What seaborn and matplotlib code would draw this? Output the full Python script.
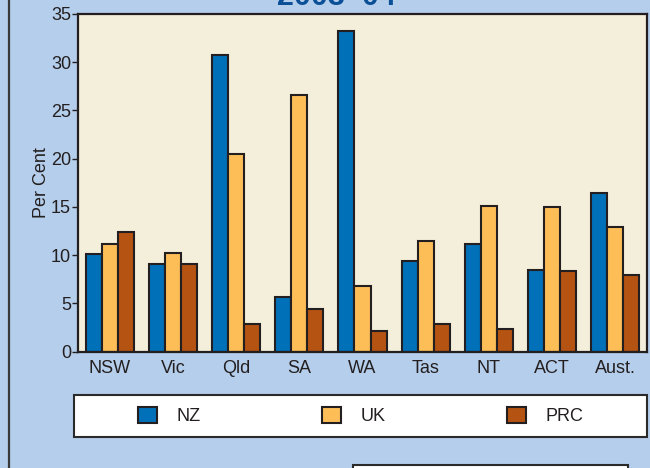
import pandas as pd
import matplotlib
matplotlib.use("Agg")
import matplotlib.pyplot as plt
import seaborn as sns
from matplotlib.patches import Rectangle
from matplotlib.lines import Line2D

# Données
states = ["NSW", "Vic", "Qld", "SA", "WA", "Tas", "NT", "ACT", "Aust."]
countries = ["NZ", "UK", "PRC"]
nz = [10.1, 9.1, 30.7, 5.7, 33.2, 9.4, 11.1, 8.5, 16.4]
uk = [11.1, 10.2, 20.5, 26.6, 6.8, 11.5, 15.1, 15.0, 12.9]
prc = [12.4, 9.1, 2.9, 4.45, 2.1, 2.9, 2.3, 8.3, 7.9]
colors = ["#0070B8", "#FDBE58", "#B55312"]

df = pd.DataFrame({
    "State": states * 3,
    "Country": ["NZ"] * 9 + ["UK"] * 9 + ["PRC"] * 9,
    "Pct": nz + uk + prc,
})

sns.set_style("white")
plt.rcParams["font.family"] = ["Liberation Sans", "DejaVu Sans"]

dark = "#231F20"
bg = "#B5CEEB"
fs = 13

fig = plt.figure(figsize=(6.5, 4.68), dpi=100, facecolor=bg)
W, H = 650, 468
ax = fig.add_axes([78 / W, 1 - 351.5 / H, (647 - 78) / W, (351.5 - 14) / H])
ax.set_facecolor("#F4EFDB")

sns.barplot(data=df, x="State", y="Pct", hue="Country", hue_order=countries,
            palette=colors, saturation=1, width=0.76, edgecolor=dark,
            linewidth=1.5, ax=ax, legend=False)

ax.set_ylim(0, 35)
ax.set_xlim(-0.5, 8.5)
ax.set_yticks(range(0, 36, 5))
ax.set_xlabel("")
ax.set_ylabel("Per Cent", fontsize=fs, color=dark, labelpad=1)
ax.tick_params(axis="y", length=4, width=1, pad=1, colors=dark, labelsize=fs, left=True)
ax.tick_params(axis="x", length=0, pad=6, colors=dark, labelsize=fs)
for s in ax.spines.values():
    s.set_color(dark)
    s.set_linewidth(1.6)

# titre (coupé en haut, comme sur l'original)
fig.text(336 / W, 1 - 5 / H, "2003\u201304", fontsize=22, fontweight="bold",
         color="#0B4F96", ha="center", va="baseline")

# bordure gauche
fig.add_artist(Line2D([9 / W, 9 / W], [0, 1], color="#3A3A3A", linewidth=1.6))

# boîte de légende
fig.add_artist(Rectangle((74 / W, 1 - 437 / H), (647 - 74) / W, 42 / H,
                         facecolor="white", edgecolor="#2A2A2A", linewidth=1.5))
handles = [Rectangle((0, 0), 1, 1, facecolor=c, edgecolor=dark, linewidth=1.5)
           for c in colors]
fig.legend(handles, countries, loc="center", bbox_to_anchor=(360.5 / W, 1 - 416 / H),
           ncol=3, frameon=False, fontsize=fs, handlelength=1.05, handleheight=1.05,
           handletextpad=1.1, columnspacing=6.7, labelcolor=dark)

# boîte du bas (coupée)
fig.add_artist(Rectangle((352.5 / W, -0.02), 275 / W, 0.02 + 3.5 / H,
                         facecolor="white", edgecolor="#2A2A2A", linewidth=1.5))

plt.savefig("out.png", dpi=100, facecolor=bg)
